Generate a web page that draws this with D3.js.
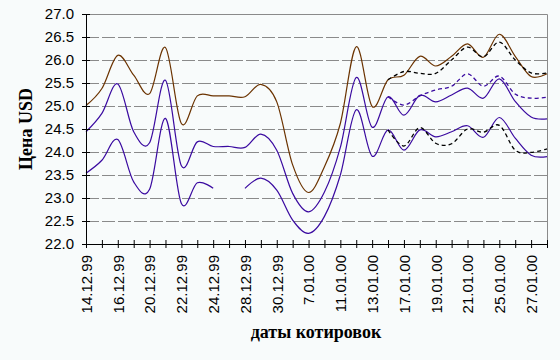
<!DOCTYPE html>
<html>
<head>
<meta charset="utf-8">
<script src="https://cdn.jsdelivr.net/npm/d3@7"></script>
<style>
  html, body { margin: 0; padding: 0; background: #f8fbfb; }
  svg { display: block; }
</style>
</head>
<body>
<svg id="chart" width="560" height="360"></svg>
<script>
// ---- data ----
const dates = ["14.12.99","15.12.99","16.12.99","17.12.99","20.12.99","21.12.99","22.12.99","23.12.99","24.12.99","27.12.99",
               "28.12.99","29.12.99","30.12.99","6.01.00","7.01.00","10.01.00","11.01.00","12.01.00","13.01.00","14.01.00",
               "17.01.00","18.01.00","19.01.00","20.01.00","21.01.00","24.01.00","25.01.00","26.01.00","27.01.00","28.01.00"];

const upperLine = [25.01, 25.38, 26.10, 25.67, 25.27, 26.27, 24.62, 25.22, 25.22, 25.22,
                   25.20, 25.47, 25.09, 23.72, 23.12, 23.68, 24.62, 26.29, 24.99, 25.57,
                   25.67, 26.08, 25.87, 26.08, 26.35, 26.06, 26.56, 26.08, 25.64, 25.70];

const middleLine = [24.44, 24.84, 25.48, 24.44, 24.20, 25.56, 23.70, 24.22, 24.12, 24.12,
                    24.10, 24.39, 24.04, 23.10, 22.70, 23.13, 24.10, 25.62, 24.54, 25.20,
                    24.80, 25.23, 25.09, 25.24, 25.39, 25.17, 25.59, 25.10, 24.76, 24.72];

const lowerLine = [23.54, 23.82, 24.27, 23.35, 23.19, 24.73, 22.88, 23.33, 23.21, null,
                   23.21, 23.43, 23.17, 22.52, 22.23, 22.60, 23.50, 24.92, 23.91, 24.48,
                   24.04, 24.48, 24.33, 24.44, 24.57, 24.32, 24.75, 24.30, 23.93, 23.90];

const upperForecast = [null, null, null, null, null, null, null, null, null, null,
                       null, null, null, null, null, null, null, null, null, 25.57,
                       25.75, 25.71, 25.71, 26.00, 26.28, 26.07, 26.39, 26.00, 25.72, 25.72];

const middleForecast = [null, null, null, null, null, null, null, null, null, null,
                        null, null, null, null, null, null, null, null, null, 25.20,
                        25.02, 25.22, 25.35, 25.43, 25.70, 25.43, 25.65, 25.26, 25.17, 25.19];

const lowerForecast = [null, null, null, null, null, null, null, null, null, null,
                       null, null, null, null, null, null, null, null, null, 24.48,
                       24.13, 24.53, 24.19, 24.18, 24.50, 24.43, 24.58, 24.04, 23.99, 24.07];

const yTicks = [22.0, 22.5, 23.0, 23.5, 24.0, 24.5, 25.0, 25.5, 26.0, 26.5, 27.0];

const yTitle = "Цена USD";
const xTitle = "даты котировок";

// ---- layout ----
const mLeft = 86, mRight = 547, mTop = 14, mBottom = 244;
const svg = d3.select("#chart");

const x = d3.scalePoint().domain(dates).range([mLeft, mRight]);
const y = d3.scaleLinear().domain([22, 27]).range([mBottom, mTop]);

// gridlines
svg.append("g").selectAll("line")
  .data(yTicks.filter(v => v > 22))
  .join("line")
  .attr("x1", mLeft).attr("x2", mRight)
  .attr("y1", d => Math.round(y(d)) + 0.5).attr("y2", d => Math.round(y(d)) + 0.5)
  .attr("stroke", "#8a8a8a").attr("stroke-width", 1)
  .attr("stroke-dasharray", "13,3");

// plot border (top & right)
svg.append("path")
  .attr("d", `M${mLeft},${mTop + 0.5}H${mRight + 0.5}V${mBottom}`)
  .attr("fill", "none").attr("stroke", "#8a8a8a").attr("stroke-width", 1);

// series
const curve = d3.curveCatmullRom.alpha(0);
const lineGen = d3.line()
  .defined(d => d != null)
  .x((d, i) => x(dates[i]))
  .y(d => y(d))
  .curve(curve);

function drawSeries(values, color, dash, width) {
  svg.append("path")
    .datum(values)
    .attr("fill", "none")
    .attr("stroke", color)
    .attr("stroke-width", width)
    .attr("stroke-dasharray", dash)
    .attr("d", lineGen);
}

drawSeries(upperLine, "#6b3300", null, 1.2);
drawSeries(middleLine, "#3a0aa0", null, 1.2);
drawSeries(lowerLine, "#3a0aa0", null, 1.2);
drawSeries(upperForecast, "#000000", "4,3", 1.3);
drawSeries(middleForecast, "#3a0aa0", "4,3", 1.3);
drawSeries(lowerForecast, "#000000", "4,3", 1.3);

// axes
const xAxis = d3.axisBottom(x)
  .tickSize(4)
  .tickFormat((d, i) => i % 2 === 0 ? d : "");
const gx = svg.append("g").attr("transform", `translate(0,${mBottom})`).call(xAxis);
gx.select(".domain").attr("stroke", "#000").attr("d", `M${mLeft},0.5H${mRight}`);
gx.selectAll(".tick line").attr("y1", -4).attr("y2", 4).attr("stroke", "#000");
gx.selectAll(".tick text")
  .attr("transform", "rotate(-90)")
  .attr("text-anchor", "end")
  .attr("x", -11).attr("y", 0).attr("dy", "0.36em")
  .attr("fill", "#000")
  .style("font-family", "'Liberation Sans', Arial, sans-serif")
  .style("font-size", "15px");

const yAxis = d3.axisLeft(y)
  .tickValues(yTicks)
  .tickSize(4)
  .tickFormat(d3.format(".1f"));
const gy = svg.append("g").attr("transform", `translate(${mLeft},0)`).call(yAxis);
gy.select(".domain").attr("stroke", "#000").attr("d", `M0.5,${mTop}V${mBottom}`);
gy.selectAll(".tick line").attr("x1", -4).attr("x2", 4).attr("stroke", "#000");
gy.selectAll(".tick text")
  .attr("x", -12)
  .attr("fill", "#000")
  .style("font-family", "'Liberation Sans', Arial, sans-serif")
  .style("font-size", "15px");

// titles
svg.append("text")
  .attr("transform", `translate(32,129) rotate(-90)`)
  .attr("text-anchor", "middle")
  .style("font-family", "'Liberation Serif', 'Times New Roman', serif")
  .style("font-weight", "bold")
  .style("font-size", "18px")
  .text(yTitle);

svg.append("text")
  .attr("x", 316).attr("y", 338)
  .attr("text-anchor", "middle")
  .style("font-family", "'Liberation Serif', 'Times New Roman', serif")
  .style("font-weight", "bold")
  .style("font-size", "18px")
  .text(xTitle);
</script>
</body>
</html>
